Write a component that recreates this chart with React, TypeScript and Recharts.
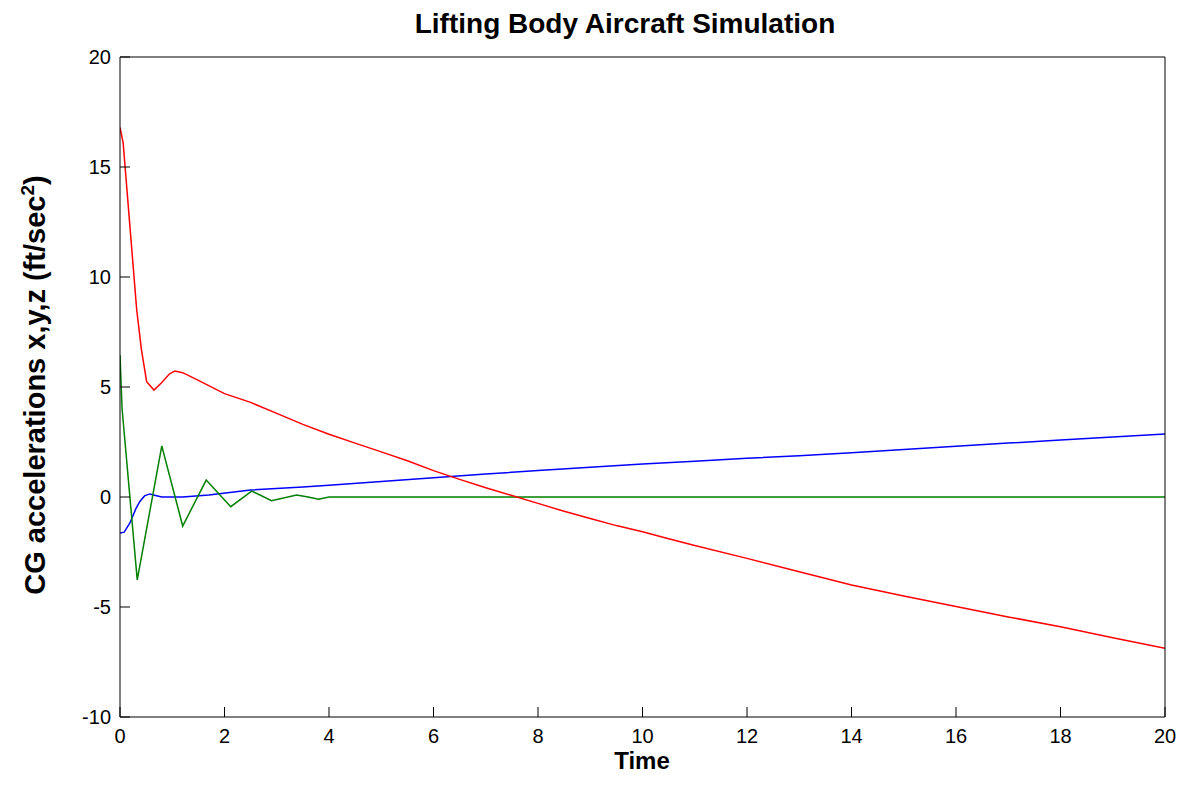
import React from 'react'
import { LineChart, Line, XAxis, YAxis } from 'recharts'

// ── Data ──────────────────────────────────────────────────────────────────────

const xTicks = [0, 2, 4, 6, 8, 10, 12, 14, 16, 18, 20]
const yTicks = [-10, -5, 0, 5, 10, 15, 20]

// x acceleration (blue)
const accXTime = [0, 0.08, 0.19, 0.3, 0.38, 0.47, 0.57, 0.7, 0.8, 1.2, 1.7, 2.5, 3.5, 4, 5, 6, 7, 8, 9, 10, 11, 12, 13, 14, 15, 16, 17, 18, 19, 20]
const accX = [-1.64, -1.6, -1.18, -0.55, -0.2, 0.05, 0.14, 0.06, 0, 0, 0.09, 0.32, 0.45, 0.53, 0.7, 0.87, 1.04, 1.2, 1.35, 1.5, 1.63, 1.76, 1.88, 2.01, 2.16, 2.31, 2.45, 2.59, 2.73, 2.86]

// y acceleration (green)
const accYTime = [0, 0.04, 0.33, 0.8, 1.2, 1.65, 2.12, 2.52, 2.9, 3.38, 3.6, 3.8, 4, 20]
const accY = [6.45, 4.0, -3.77, 2.32, -1.32, 0.77, -0.44, 0.27, -0.17, 0.09, 0, -0.1, 0, 0]

// z acceleration (red)
const accZTime = [0, 0.06, 0.19, 0.32, 0.41, 0.51, 0.65, 0.8, 0.95, 1.05, 1.2, 1.5, 2, 2.5, 3, 3.5, 4, 4.5, 5, 5.5, 6, 6.5, 7, 7.5, 8, 8.5, 9, 9.5, 10, 10.5, 11, 12, 13, 14, 15, 16, 17, 18, 19, 20]
const accZ = [16.8, 16.1, 12.3, 8.5, 6.7, 5.24, 4.86, 5.2, 5.6, 5.73, 5.65, 5.3, 4.7, 4.3, 3.8, 3.3, 2.85, 2.45, 2.05, 1.65, 1.2, 0.8, 0.42, 0.07, -0.29, -0.65, -0.98, -1.3, -1.58, -1.9, -2.2, -2.79, -3.4, -4.0, -4.5, -4.98, -5.45, -5.9, -6.4, -6.88]

const toPoints = (t: number[], v: number[]) => t.map((time, i) => ({ time, value: v[i] }))

const FONT = '"Liberation Sans", Arial, Helvetica, sans-serif'
const tickStyle = { fill: '#000', fontSize: 20, fontFamily: FONT }

// ── Labels ────────────────────────────────────────────────────────────────────

function TitleLabel() {
  return (
    <text x={625} y={33} textAnchor="middle" fontFamily={FONT} fontSize={28} fontWeight={700} fill="#000">
      Lifting Body Aircraft Simulation
    </text>
  )
}

function TimeLabel() {
  return (
    <text x={642} y={769} textAnchor="middle" fontFamily={FONT} fontSize={24} fontWeight={700} fill="#000">
      Time
    </text>
  )
}

function AccelLabel() {
  return (
    <text
      x={0} y={0}
      transform="translate(45, 385) rotate(-90)"
      textAnchor="middle"
      fontFamily={FONT} fontSize={29} fontWeight={700} fill="#000"
    >
      CG accelerations x,y,z (ft/sec
      <tspan dy={-11} fontSize={19}>2</tspan>
      <tspan dy={11}>)</tspan>
    </text>
  )
}

// ── Chart ─────────────────────────────────────────────────────────────────────

export default function App() {
  return (
    <div style={{ position: 'absolute', left: 0, top: 0, width: 1183, height: 787, background: '#fff' }}>
      <LineChart width={1183} height={787} margin={{ top: 0, right: 0, bottom: 0, left: 0 }}>
        <XAxis
          xAxisId="bottom" dataKey="time" type="number" orientation="bottom"
          domain={[0, 20]} ticks={xTicks} interval={0} allowDataOverflow
          height={70} tickSize={-10} tickMargin={22}
          stroke="#000" tick={tickStyle}
          label={() => <TimeLabel />}
        />
        <XAxis
          xAxisId="top" dataKey="time" type="number" orientation="top"
          domain={[0, 20]} ticks={xTicks} interval={0} allowDataOverflow
          height={57} tickSize={-10} tick={false} stroke="#000"
          label={() => <TitleLabel />}
        />
        <YAxis
          yAxisId="left" type="number" orientation="left"
          domain={[-10, 20]} ticks={yTicks} interval={0} allowDataOverflow
          width={120} tickSize={-10} tickMargin={19}
          stroke="#000" tick={tickStyle}
          label={() => <AccelLabel />}
        />
        <YAxis
          yAxisId="right" type="number" orientation="right"
          domain={[-10, 20]} ticks={yTicks} interval={0} allowDataOverflow
          width={18} tickSize={-10} tick={false} stroke="#000"
        />
        <Line
          xAxisId="bottom" yAxisId="left" data={toPoints(accXTime, accX)} dataKey="value"
          type="linear" stroke="#0000ff" strokeWidth={1.5} dot={false} isAnimationActive={false}
        />
        <Line
          xAxisId="bottom" yAxisId="left" data={toPoints(accYTime, accY)} dataKey="value"
          type="linear" stroke="#008000" strokeWidth={1.5} dot={false} isAnimationActive={false}
        />
        <Line
          xAxisId="bottom" yAxisId="left" data={toPoints(accZTime, accZ)} dataKey="value"
          type="linear" stroke="#ff0000" strokeWidth={1.5} dot={false} isAnimationActive={false}
        />
      </LineChart>
    </div>
  )
}
